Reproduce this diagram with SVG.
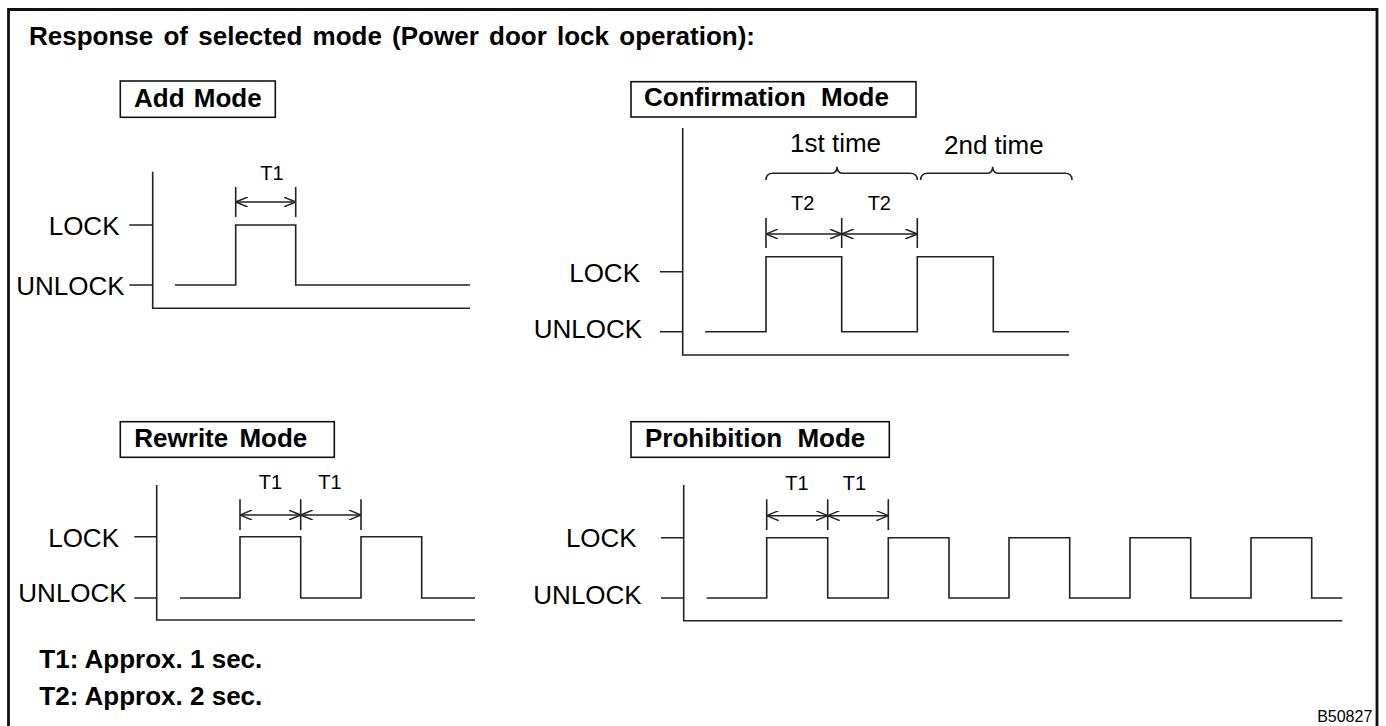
<svg xmlns="http://www.w3.org/2000/svg" width="1386" height="726" viewBox="0 0 1386 726">
<style>
.ln{fill:none;stroke:#222;stroke-width:1.6}
.bx{fill:#fff;stroke:#111;stroke-width:1.6}
.hd{font-family:"Liberation Sans",Arial,sans-serif;font-weight:bold;font-size:26px;fill:#000;word-spacing:4px}
.lb{font-family:"Liberation Sans",Arial,sans-serif;font-size:26px;fill:#000}
.tl{font-family:"Liberation Sans",Arial,sans-serif;font-size:20px;fill:#000;text-anchor:middle}
.dim{fill:none;stroke:#222;stroke-width:1.4;marker-start:url(#ah);marker-end:url(#ah)}
</style>
<defs>
<marker id="ah" viewBox="0 0 12 10" refX="12" refY="5" markerWidth="12" markerHeight="10" markerUnits="userSpaceOnUse" orient="auto-start-reverse">
<path d="M0,0 L12,5 L0,10" fill="none" stroke="#222" stroke-width="1.4"/>
</marker>
</defs>
<rect width="1386" height="726" fill="#fff"/>
<path d="M8.5,730 L8.5,9.5 L1377,9.5 L1377,730" fill="none" stroke="#111" stroke-width="2.8"/>
<text x="29" y="45" class="hd" style="word-spacing:3px">Response of selected mode (Power door lock operation):</text>

<g id="add-mode">
<rect x="120.3" y="81" width="155" height="36.3" class="bx"/>
<text x="134" y="107" class="hd" style="word-spacing:2px">Add Mode</text>
<path class="ln" d="M152.7,171.7 V308.3 H470 M129.3,225 H152.7 M129.3,285 H152.7"/>
<text x="119.5" y="235" class="lb" text-anchor="end">LOCK</text>
<text x="124.5" y="295" class="lb" text-anchor="end">UNLOCK</text>
<path class="ln" d="M175,285 H235.7 V225 H295.7 V285 H470"/>
<path class="ln" d="M235.7,187 V217 M295.7,187 V217"/>
<line class="dim" x1="235.7" y1="202" x2="295.7" y2="202"/>
<text x="272" y="180" class="tl">T1</text>
</g>

<g id="confirmation-mode">
<rect x="631" y="81.7" width="285" height="35.3" class="bx"/>
<text x="644" y="106" class="hd" style="word-spacing:8px">Confirmation Mode</text>
<path class="ln" d="M682.7,128 V355 H1069 M660,271.7 H682.7 M660,331.7 H682.7"/>
<text x="640" y="281.7" class="lb" text-anchor="end">LOCK</text>
<text x="642" y="338.3" class="lb" text-anchor="end">UNLOCK</text>
<path class="ln" d="M705,331.7 H766 V256.7 H841.7 V331.7 H917.3 V256.7 H993.3 V331.7 H1069"/>
<path class="ln" d="M766,218 V248 M841.7,218 V248 M917.3,218 V248"/>
<line class="dim" x1="766" y1="234" x2="841.7" y2="234"/>
<line class="dim" x1="841.7" y1="234" x2="917.3" y2="234"/>
<text x="802.7" y="210" class="tl">T2</text>
<text x="879.3" y="210" class="tl">T2</text>
<path class="ln" d="M766,180 Q766,173.3 773,173.3 L831,173.3 Q837,173.3 837,166.7 Q837,173.3 843,173.3 L910,173.3 Q917.3,173.3 917.3,180"/>
<path class="ln" d="M920.7,180 Q920.7,173.3 927.7,173.3 L986.7,173.3 Q992.7,173.3 992.7,166.7 Q992.7,173.3 998.7,173.3 L1065,173.3 Q1072,173.3 1072,180"/>
<text x="790" y="151.7" class="lb">1st time</text>
<text x="944" y="154" class="lb">2nd time</text>
</g>

<g id="rewrite-mode">
<rect x="120.3" y="421.7" width="214" height="35.6" class="bx"/>
<text x="134.3" y="446.7" class="hd">Rewrite Mode</text>
<path class="ln" d="M156.7,485 V620 H475 M134.3,536.7 H156.7 M134.3,598 H156.7"/>
<text x="119" y="546.7" class="lb" text-anchor="end">LOCK</text>
<text x="126.7" y="601.7" class="lb" text-anchor="end">UNLOCK</text>
<path class="ln" d="M180,598 H240 V536.7 H300.7 V598 H361 V536.7 H421.7 V598 H475"/>
<path class="ln" d="M240,499.3 V530 M300.7,499.3 V530 M361,499.3 V530"/>
<line class="dim" x1="240" y1="515" x2="300.7" y2="515"/>
<line class="dim" x1="300.7" y1="515" x2="361" y2="515"/>
<text x="270.5" y="489.3" class="tl">T1</text>
<text x="330" y="489.3" class="tl">T1</text>
</g>

<g id="prohibition-mode">
<rect x="631" y="421.7" width="258.3" height="35.6" class="bx"/>
<text x="645" y="446.7" class="hd" style="word-spacing:8px">Prohibition Mode</text>
<path class="ln" d="M683.7,485 V620.7 H1342.3 M661,537.7 H683.7 M661,598 H683.7"/>
<text x="636.7" y="546.7" class="lb" text-anchor="end">LOCK</text>
<text x="641.7" y="604" class="lb" text-anchor="end">UNLOCK</text>
<path class="ln" d="M706.7,598 H766.7 V537.7 H827.7 V598 H888.3 V537.7 H949 V598 H1009 V537.7 H1069.7 V598 H1130 V537.7 H1190.7 V598 H1251 V537.7 H1311.7 V598 H1342.3"/>
<path class="ln" d="M766.7,499.3 V530 M827.7,499.3 V530 M888.3,499.3 V530"/>
<line class="dim" x1="766.7" y1="515.7" x2="827.7" y2="515.7"/>
<line class="dim" x1="827.7" y1="515.7" x2="888.3" y2="515.7"/>
<text x="797" y="490" class="tl">T1</text>
<text x="854.5" y="490" class="tl">T1</text>
</g>

<g id="notes">
<text x="39.3" y="668.3" class="hd" style="word-spacing:0px">T1: Approx. 1 sec.</text>
<text x="39.3" y="705" class="hd" style="word-spacing:0px">T2: Approx. 2 sec.</text>
<text x="1372.3" y="721.7" font-family="Liberation Sans, Arial, sans-serif" font-size="16" text-anchor="end">B50827</text>
</g>
</svg>
